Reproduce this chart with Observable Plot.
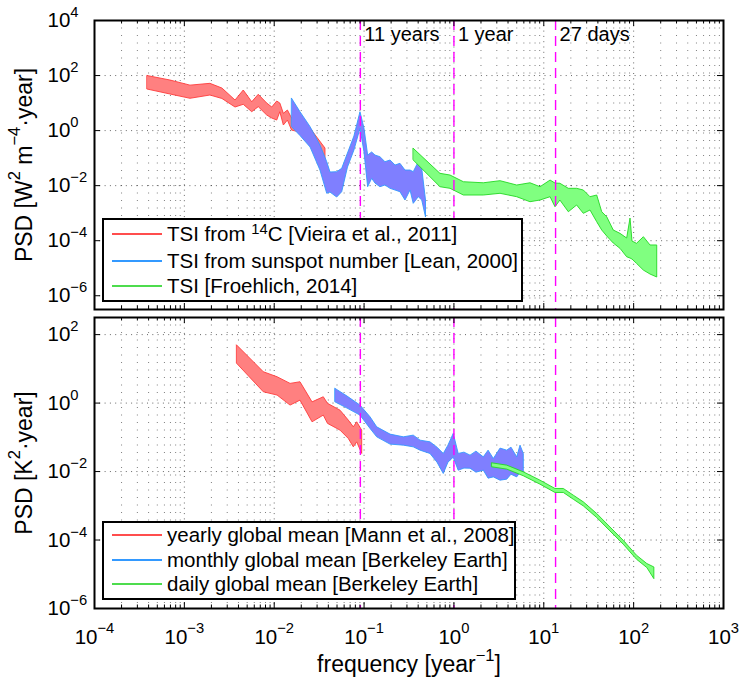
<!DOCTYPE html>
<html><head><meta charset="utf-8">
<script src="https://cdn.jsdelivr.net/npm/d3@7"></script>
<script src="https://cdn.jsdelivr.net/npm/@observablehq/plot@0.6"></script>
<style>
body{margin:0;background:#fff;font-family:"Liberation Sans",Arial,Helvetica,sans-serif}
#chart{position:relative;width:740px;height:684px;overflow:hidden}
#chart svg{display:block}
.legend{position:absolute;background:#fff;border:2px solid #000;box-sizing:border-box}
.row{position:absolute;left:8px;height:24px;display:flex;align-items:center;font-size:20.5px;line-height:24px;white-space:nowrap;color:#000}
.sw{display:inline-block;width:50px;height:2px;margin-right:5px}
sup{font-size:0.72em;vertical-align:0.45em;line-height:0}
</style></head>
<body><div id="chart"></div>
<script>
// ---------- data (frequency in 1/year, PSD band lower/upper) ----------
// Top panel: TSI
const c14Freq = [3.9e-4, 7.0e-4, 1.17e-3, 1.95e-3, 2.65e-3, 3.71e-3, 4.58e-3, 5.69e-3, 6.73e-3, 8.36e-3, 9.51e-3, 1.08e-2, 1.17e-2, 1.28e-2, 1.42e-2, 1.58e-2, 1.96e-2, 2.54e-2, 2.95e-2, 3.72e-2];
const c14Hi = [96, 66, 43, 50, 33.8, 12.4, 28.6, 10.7, 20, 9.6, 6.9, 11.4, 9.6, 4.07, 5.37, 2.75, 2.32, 1.19, 0.61, 0.223];
const c14Lo = [31, 20.5, 14.3, 18.8, 14.1, 6.9, 8.65, 4.66, 7.1, 3.53, 2.75, 2.32, 4.66, 1.53, 2.32, 1.0, 0.85, 0.40, 0.223, 0.069];

const sunFreq = [0.0158, 0.0196, 0.0254, 0.0327, 0.0389, 0.0423, 0.0502, 0.0571, 0.0662, 0.0781, 0.0912, 0.101, 0.111, 0.123, 0.134, 0.152, 0.173, 0.197, 0.224, 0.254, 0.289, 0.329, 0.357, 0.406, 0.444, 0.489];
const sunHi = [14.3, 4.66, 1.33, 0.287, 0.071, 0.030, 0.0308, 0.0408, 0.147, 0.61, 4.66, 1.19, 0.124, 0.160, 0.124, 0.108, 0.071, 0.082, 0.054, 0.062, 0.0354, 0.0354, 0.0308, 0.071, 0.0408, 0.00288];
const sunLo = [1.33, 0.635, 0.243, 0.0354, 0.00505, 0.0056, 0.0037, 0.00577, 0.0455, 0.189, 1.16, 0.164, 0.00877, 0.0177, 0.0119, 0.00877, 0.0101, 0.00767, 0.00665, 0.00577, 0.00288, 0.00665, 0.00218, 0.0038, 0.00288, 0.000695];

const froFreq = [0.357, 0.708, 0.916, 1.29, 2.15, 3.30, 5.06, 7.11, 9.19, 11.9, 13.5, 15.3, 19.0, 23.5, 27.9, 33.1, 39.3, 44.7, 50.8, 60.1, 71.4, 84.7, 92.3, 97.1, 109, 130, 154, 183];
const froHi = [0.218, 0.0269, 0.0233, 0.0133, 0.0122, 0.0145, 0.0101, 0.0122, 0.00877, 0.0153, 0.0119, 0.0117, 0.00767, 0.00767, 0.00665, 0.0038, 0.00438, 0.00108, 0.000711, 0.000234, 0.000177, 0.00012, 0.000638, 9.3e-5, 7.7e-5, 1.34e-4, 6.7e-5, 6.7e-5];
const froLo = [0.0818, 0.00877, 0.00767, 0.00438, 0.00438, 0.00505, 0.0038, 0.0025, 0.00288, 0.0038, 0.00164, 0.00288, 0.00108, 0.0019, 0.000946, 0.00125, 0.000469, 0.000234, 0.000142, 7.9e-5, 5.06e-5, 2.5e-5, 2.25e-5, 2.07e-5, 1.44e-5, 8.2e-6, 5.9e-6, 4.6e-6];

// Bottom panel: global mean temperature
const mannFreq = [3.87e-3, 7.66e-3, 1.09e-2, 1.52e-2, 1.96e-2, 2.67e-2, 3.56e-2, 3.97e-2, 5.47e-2, 6.76e-2, 7.69e-2, 8.38e-2, 9.53e-2];
const mannHi = [48, 7.96, 5.68, 3.64, 4.06, 1.05, 1.48, 0.95, 0.60, 0.308, 0.196, 0.275, 0.157];
const mannLo = [14, 2.07, 1.66, 0.845, 1.18, 0.275, 0.431, 0.247, 0.157, 0.0897, 0.051, 0.0714, 0.0327];

const berkMFreq = [0.0481, 0.0655, 0.0912, 0.118, 0.140, 0.197, 0.277, 0.357, 0.425, 0.548, 0.656, 0.771, 0.869, 0.995, 1.13, 1.31, 1.53, 1.78, 2.15, 2.43, 2.78, 3.30, 3.92, 4.37, 5.06, 5.51, 5.99];
const berkMHi = [2.60, 1.55, 0.845, 0.385, 0.196, 0.12, 0.10, 0.112, 0.080, 0.0714, 0.05, 0.0327, 0.0571, 0.126, 0.0327, 0.0357, 0.0292, 0.0382, 0.026, 0.0408, 0.0233, 0.0468, 0.0408, 0.05, 0.026, 0.0571, 0.0327];
const berkMLo = [1.05, 0.69, 0.431, 0.176, 0.1, 0.0612, 0.0571, 0.051, 0.0408, 0.0327, 0.0182, 0.0085, 0.0182, 0.0255, 0.0106, 0.0122, 0.0121, 0.0093, 0.0106, 0.0062, 0.00676, 0.00542, 0.0058, 0.0081, 0.00676, 0.0093, 0.0095];

const berkDFreq = [2.67, 3.92, 5.99, 9.19, 13.5, 16.7, 21.6, 27.9, 39.3, 55.2, 77.6, 109, 142, 170];
const berkDHi = [0.0174, 0.0149, 0.0095, 0.00542, 0.0031, 0.0031, 0.00197, 0.00126, 5.75e-4, 2.33e-4, 9.5e-5, 3.48e-5, 1.99e-5, 1.58e-5];
const berkDLo = [0.0133, 0.0114, 0.0073, 0.00414, 0.00237, 0.00237, 0.0015, 9.6e-4, 4.4e-4, 1.78e-4, 7.3e-5, 2.66e-5, 1.52e-5, 7.2e-6];

// axes / annotations
const xTickExps = [-4, -3, -2, -1, 0, 1, 2, 3];
const topYTickExps = [-6, -4, -2, 0, 2, 4];
const botYTickExps = [-6, -4, -2, 0, 2];
const periodFreqs = [1 / 11, 1, 365.25 / 27];
const periodLabels = ["11 years", "1 year", "27 days"];
const topLegend = [
  {label: "TSI from <sup>14</sup>C [Vieira et al., 2011]", color: "#ff4d4d"},
  {label: "TSI from sunspot number [Lean, 2000]", color: "#3399ff"},
  {label: "TSI [Froehlich, 2014]", color: "#4ddc4d"}
];
const botLegend = [
  {label: "yearly global mean [Mann et al., 2008]", color: "#ff4d4d"},
  {label: "monthly global mean [Berkeley Earth]", color: "#3399ff"},
  {label: "daily global mean [Berkeley Earth]", color: "#4ddc4d"}
];

// ---------- helpers ----------
const FONT = '"Liberation Sans", Arial, Helvetica, sans-serif';
const RED = {fill: "#ff8080", stroke: "#ff3b3b"};
const BLUE = {fill: "#7f7fff", stroke: "#3399ff"};
const GREEN = {fill: "#80ff80", stroke: "#22d822"};
const band = (f, lo, hi) => f.map((v, i) => ({f: v, lo: lo[i], hi: hi[i]}));
const expStr = e => (e < 0 ? "\u2212" + (-e) : String(e));
const xMajor = xTickExps.map(e => 10 ** e);
const xMinor = xTickExps.slice(0, -1).flatMap(e => [2, 3, 4, 5, 6, 7, 8, 9].map(k => k * 10 ** e));

function supify(root) {
  const NS = "http://www.w3.org/2000/svg";
  root.querySelectorAll("text").forEach(t => {
    const s = t.textContent;
    if (!s.includes("^{")) return;
    while (t.firstChild) t.removeChild(t.firstChild);
    const re = /\^\{([^}]*)\}/g;
    let last = 0, m, raised = false;
    const add = (txt, sup) => {
      const ts = document.createElementNS(NS, "tspan");
      ts.textContent = txt;
      if (sup) { ts.setAttribute("font-size", "72%"); ts.setAttribute("dy", "-0.68em"); }
      else if (raised) ts.setAttribute("dy", "0.49em");
      raised = sup;
      t.appendChild(ts);
    };
    while ((m = re.exec(s))) {
      if (m.index > last) add(s.slice(last, m.index), false);
      add(m[1], true);
      last = re.lastIndex;
    }
    if (last < s.length) add(s.slice(last), false);
  });
}

function panel({height, marginTop, marginBottom, yDomain, yTickExps, bands, yTitle, periodText, xText}) {
  const marginLeft = 94, marginRight = 17, width = 740;
  const fw = width - marginLeft - marginRight;
  const fh = height - marginTop - marginBottom;
  const yMajor = yTickExps.map(e => 10 ** e);
  const marks = [
    Plot.ruleX(xMinor, {stroke: "#000", strokeOpacity: 0.5, strokeDasharray: "1,6.5"}),
    Plot.ruleX(xMajor, {stroke: "#000", strokeOpacity: 0.6, strokeDasharray: "1,4.3"}),
    Plot.ruleY(yMajor, {stroke: "#000", strokeOpacity: 0.6, strokeDasharray: "1,4.3"}),
    ...bands.map(b => Plot.areaY(b.data, {x: "f", y1: "lo", y2: "hi", fill: b.fill, stroke: b.stroke, strokeWidth: 0.9})),
    Plot.ruleX(periodFreqs, {stroke: "#ff00ff", strokeWidth: 1.4, strokeDasharray: "10,6"}),
    Plot.ruleX(xMajor, {insetTop: fh - 6, stroke: "#000"}),
    Plot.ruleX(xMajor, {insetBottom: fh - 6, stroke: "#000"}),
    Plot.ruleX(xMinor, {insetTop: fh - 3.5, stroke: "#000"}),
    Plot.ruleX(xMinor, {insetBottom: fh - 3.5, stroke: "#000"}),
    Plot.ruleY(yMajor, {insetRight: fw - 6, stroke: "#000"}),
    Plot.ruleY(yMajor, {insetLeft: fw - 6, stroke: "#000"}),
    Plot.frame({stroke: "#000", strokeWidth: 2}),
    Plot.text(yTickExps, {y: e => 10 ** e, text: e => "10^{" + expStr(e) + "}", frameAnchor: "left", textAnchor: "start", dx: -47, fontSize: 20.5}),
    Plot.text([yTitle], {text: d => d, frameAnchor: "left", textAnchor: "middle", rotate: -90, dx: -63, lineAnchor: "bottom", fontSize: 23})
  ];
  if (periodText) marks.push(Plot.text(periodFreqs, {x: d => d, text: (d, i) => periodLabels[i], frameAnchor: "top", lineAnchor: "bottom", textAnchor: "start", dx: 4, dy: 20.7, fontSize: 20}));
  if (xText) {
    marks.push(Plot.text(xTickExps, {x: e => 10 ** e, text: e => "10^{" + expStr(e) + "}", frameAnchor: "bottom", textAnchor: "middle", lineAnchor: "bottom", dy: 35, fontSize: 20.5}));
    marks.push(Plot.text([xText], {text: d => d, frameAnchor: "bottom", textAnchor: "middle", lineAnchor: "bottom", dy: 63.7, fontSize: 23}));
  }
  const svg = Plot.plot({
    width, height, marginTop, marginBottom, marginLeft, marginRight,
    x: {type: "log", domain: [1e-4, 1e3], axis: null},
    y: {type: "log", domain: yDomain, axis: null},
    style: {fontFamily: FONT, fontSize: "20px", background: "#fff", overflow: "visible", color: "#000"},
    marks
  });
  supify(svg);
  return svg;
}

const chart = document.getElementById("chart");
chart.appendChild(panel({
  height: 312, marginTop: 20, marginBottom: 3,
  yDomain: [10 ** -6.5, 1e4], yTickExps: topYTickExps,
  bands: [
    {data: band(c14Freq, c14Lo, c14Hi), ...RED},
    {data: band(sunFreq, sunLo, sunHi), ...BLUE},
    {data: band(froFreq, froLo, froHi), ...GREEN}
  ],
  yTitle: "PSD [W^{2} m^{\u22124}\u00b7year]", periodText: true
}));
chart.appendChild(panel({
  height: 372, marginTop: 5, marginBottom: 76,
  yDomain: [1e-6, 10 ** 2.5], yTickExps: botYTickExps,
  bands: [
    {data: band(mannFreq, mannLo, mannHi), ...RED},
    {data: band(berkMFreq, berkMLo, berkMHi), ...BLUE},
    {data: band(berkDFreq, berkDLo, berkDHi), ...GREEN}
  ],
  yTitle: "PSD [K^{2}\u00b7year]", xText: "frequency [year^{\u22121}]"
}));

function legend(items, box, rowCenters) {
  const d = document.createElement("div");
  d.className = "legend";
  Object.assign(d.style, {left: box[0] + "px", top: box[1] + "px", width: box[2] + "px", height: box[3] + "px"});
  items.forEach((it, i) => {
    const r = document.createElement("div");
    r.className = "row";
    r.style.top = (rowCenters[i] - box[1] - 2 - 12) + "px";
    r.innerHTML = `<span class="sw" style="background:${it.color}"></span><span>${it.label}</span>`;
    d.appendChild(r);
  });
  chart.appendChild(d);
}
legend(topLegend, [102, 218, 421, 84], [234, 261, 286]);
legend(botLegend, [102, 521, 414, 79], [535, 560, 584]);
</script>
</body></html>
